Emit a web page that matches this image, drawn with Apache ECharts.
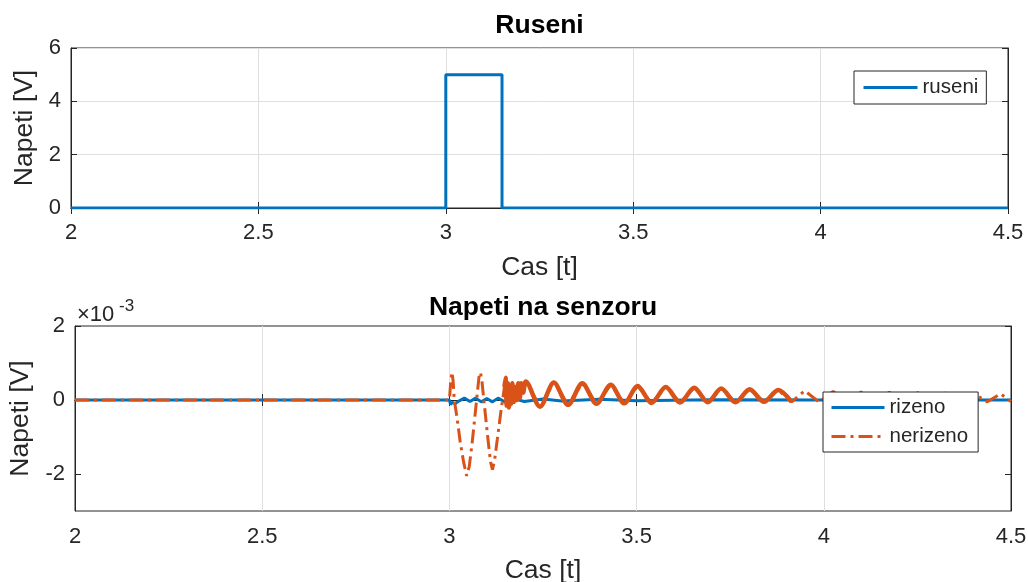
<!DOCTYPE html>
<html>
<head>
<meta charset="utf-8">
<title>Ruseni / Napeti na senzoru</title>
<script src="https://cdn.jsdelivr.net/npm/echarts@6/dist/echarts.min.js"></script>
<style>
  html, body { margin: 0; padding: 0; background: #fff; }
  #chart { width: 1028px; height: 582px; }
</style>
</head>
<body>
<div id="chart"></div>
<script>
// top plot: disturbance pulse
const ruseniT = [2, 3, 3, 3.15, 3.15, 4.5];
const ruseniV = [0, 0, 5, 5, 0, 0];

// bottom plot: sensor voltage, values in 1e-3 V
const rizenoT = [2, 3.000, 3.003, 3.008, 3.015, 3.025, 3.040, 3.055, 3.070, 3.085, 3.100, 3.115,
  3.130, 3.150, 3.170, 3.200, 3.250, 3.300, 3.400, 3.500, 3.700, 4.000, 4.500];
const rizenoV = [0, 0, -0.12, -0.06, -0.10, -0.03, 0.05, -0.04, 0.05, -0.05, 0.04, -0.05,
  0.05, -0.06, 0.04, -0.04, 0.03, -0.03, 0.02, -0.02, 0.01, 0, 0];

const nerizenoT = [2.000, 3.000, 3.004, 3.007, 3.010, 3.013, 3.020, 3.029, 3.038, 3.046, 3.053,
  3.061, 3.070, 3.079, 3.083, 3.087, 3.092, 3.103, 3.110, 3.115, 3.121, 3.128, 3.137, 3.147,
  3.150, 3.153, 3.156, 3.159, 3.162, 3.165, 3.168, 3.172, 3.176, 3.180, 3.184, 3.188, 3.192,
  3.197, 3.204, 3.242, 3.279, 3.317, 3.355, 3.393, 3.431, 3.467, 3.503, 3.540, 3.578, 3.616,
  3.654, 3.690, 3.726, 3.764, 3.802, 3.840, 3.878, 3.914, 3.949, 3.987, 4.025, 4.062, 4.100,
  4.137, 4.175, 4.212, 4.250, 4.287, 4.325, 4.362, 4.400, 4.437, 4.472, 4.500];
const nerizenoV = [0, 0, 0.55, 0.75, 0.50, 0.00, -0.45, -1.14, -1.68, -2.05, -1.80,
  -1.14, -0.26, 0.62, 0.75, 0.50, 0.00, -1.06, -1.68, -1.88, -1.60, -1.06, -0.35, 0.35,
  0.60, -0.15, 0.45, -0.20, 0.30, -0.10, 0.45, -0.05, 0.35, 0.00, 0.45, 0.05, 0.45,
  0.20, 0.50, -0.18, 0.47, -0.13, 0.45, -0.10, 0.41, -0.09, 0.38, -0.08, 0.35, -0.07,
  0.33, -0.06, 0.31, -0.06, 0.29, -0.05, 0.27, -0.05, 0.25, -0.05, 0.23, -0.05, 0.22,
  -0.05, 0.21, -0.05, 0.20, -0.05, 0.19, -0.05, 0.18, -0.05, 0.17, -0.04];

// ticks
const xTicks = [2, 2.5, 3, 3.5, 4, 4.5];
const ruseniTicks = [0, 2, 4, 6];
const senzorTicks = [-2, 0, 2];
const senzorMin = -3;

const BLUE = '#0072BD';
const ORANGE = '#D95319';
const INK = '#262626';
const GRIDC = '#dfdfdf';
const FONT = '"Liberation Sans", Arial, Helvetica, sans-serif';

const zip = (ts, vs) => ts.map((t, i) => [t, vs[i]]);
const nerizenoAll = zip(nerizenoT, nerizenoV);
// noisy part looks solid in the original
const nerizenoDense = nerizenoAll.filter(p => p[0] >= 3.147 && p[0] <= 3.914);

const chart = echarts.init(document.getElementById('chart'), null, { renderer: 'canvas' });

function xAx(grid, main, margin) {
  return {
    type: 'value', gridIndex: grid, position: main ? 'bottom' : 'top',
    min: xTicks[0], max: xTicks[xTicks.length - 1], interval: 0.5,
    name: main ? 'Cas [t]' : '', nameLocation: 'middle', nameGap: 46,
    nameTextStyle: { fontFamily: FONT, fontSize: 26.5, color: INK },
    axisLine: { show: true, lineStyle: { color: INK, width: 1 } },
    axisTick: { show: true, inside: true, length: 6, lineStyle: { color: INK } },
    axisLabel: { show: main, margin: margin, fontFamily: FONT, fontSize: 22, color: INK },
    splitLine: { show: main, lineStyle: { color: GRIDC, width: 1 } }
  };
}

const legendCommon = {
  backgroundColor: '#fff', borderColor: INK, borderWidth: 1, borderRadius: 0,
  textStyle: { fontFamily: FONT, fontSize: 20.5, color: INK },
  lineStyle: { width: 3 },
  // line only, no marker
  itemStyle: { opacity: 0, color: 'rgba(0,0,0,0)', borderWidth: 0 }
};

const option = {
  animation: false,
  backgroundColor: '#fff',
  grid: [
    { left: 71, right: 20, top: 48, bottom: 374, show: true, borderColor: INK, borderWidth: 1, outerBoundsMode: 'none' },
    { left: 75, right: 17, top: 326, bottom: 71, show: true, borderColor: INK, borderWidth: 1, outerBoundsMode: 'none' }
  ],
  xAxis: [xAx(0, true, 14), xAx(0, false, 14), xAx(1, true, 15), xAx(1, false, 15)],
  yAxis: [
    {
      type: 'value', gridIndex: 0, min: ruseniTicks[0], max: ruseniTicks[ruseniTicks.length - 1], interval: 2,
      name: 'Napeti [V]', nameLocation: 'middle', nameGap: 29,
      nameTextStyle: { fontFamily: FONT, fontSize: 26.5, color: INK },
      axisLine: { show: true, lineStyle: { color: INK } },
      axisTick: { show: true, inside: true, length: 6, lineStyle: { color: INK } },
      axisLabel: { margin: 10, fontFamily: FONT, fontSize: 22, color: INK },
      splitLine: { show: true, lineStyle: { color: GRIDC } }
    },
    {
      type: 'value', gridIndex: 0, position: 'right', min: 0, max: 6, interval: 2,
      axisLine: { show: true, lineStyle: { color: INK } },
      axisTick: { show: true, inside: true, length: 6, lineStyle: { color: INK } },
      axisLabel: { show: false }, splitLine: { show: false }
    },
    {
      type: 'value', gridIndex: 1, min: senzorMin, max: senzorTicks[senzorTicks.length - 1], interval: 1,
      name: 'Napeti [V]', nameLocation: 'middle', nameGap: 35,
      nameTextStyle: { fontFamily: FONT, fontSize: 26.5, color: INK },
      axisLine: { show: true, lineStyle: { color: INK } },
      axisTick: { show: true, inside: true, length: 6, lineStyle: { color: INK }, customValues: senzorTicks },
      axisLabel: {
        margin: 10, fontFamily: FONT, fontSize: 22, color: INK, customValues: senzorTicks,
        formatter: v => (senzorTicks.indexOf(v) >= 0 ? String(v) : '')
      },
      // ticks at -3..2, grid lines only at even values
      splitLine: { show: true, lineStyle: { color: ['rgba(0,0,0,0)', GRIDC] } }
    },
    {
      type: 'value', gridIndex: 1, position: 'right', min: senzorMin, max: 2, interval: 1,
      axisLine: { show: true, lineStyle: { color: INK } },
      axisTick: { show: true, inside: true, length: 6, lineStyle: { color: INK }, customValues: senzorTicks },
      axisLabel: { show: false }, splitLine: { show: false }
    }
  ],
  legend: [
    Object.assign({
      data: ['ruseni'], left: 854, top: 71, orient: 'horizontal',
      itemWidth: 54, itemHeight: 20, padding: [6, 8, 6, 8]
    }, legendCommon),
    Object.assign({
      data: ['rizeno', 'nerizeno'], left: 823, top: 392, orient: 'vertical',
      itemWidth: 53, itemHeight: 20, itemGap: 8, padding: [5, 10, 5, 7]
    }, legendCommon)
  ],
  graphic: [
    { type: 'text', x: 539.5, y: 26, style: { text: 'Ruseni', font: 'bold 26.5px ' + FONT, fill: '#000', align: 'center', verticalAlign: 'middle' } },
    { type: 'text', x: 543, y: 308, style: { text: 'Napeti na senzoru', font: 'bold 26.5px ' + FONT, fill: '#000', align: 'center', verticalAlign: 'middle' } },
    { type: 'text', x: 77, y: 315, style: { text: '×10', font: '22px ' + FONT, fill: INK, align: 'left', verticalAlign: 'middle' } },
    { type: 'text', x: 119, y: 306, style: { text: '-3', font: '17px ' + FONT, fill: INK, align: 'left', verticalAlign: 'middle' } }
  ],
  series: [
    {
      name: 'ruseni', type: 'line', xAxisIndex: 0, yAxisIndex: 0,
      data: zip(ruseniT, ruseniV), showSymbol: false, symbol: 'none',
      lineStyle: { color: BLUE, width: 3 }, itemStyle: { color: BLUE }
    },
    {
      name: 'rizeno', type: 'line', xAxisIndex: 2, yAxisIndex: 2,
      data: zip(rizenoT, rizenoV), showSymbol: false, symbol: 'none',
      lineStyle: { color: BLUE, width: 3 }, itemStyle: { color: BLUE }
    },
    {
      name: 'nerizeno', type: 'line', xAxisIndex: 2, yAxisIndex: 2,
      data: nerizenoAll, showSymbol: false, symbol: 'none',
      lineStyle: { color: ORANGE, width: 3, type: [14, 5, 3, 5] }, itemStyle: { color: ORANGE }
    },
    {
      name: 'nerizeno', type: 'line', xAxisIndex: 2, yAxisIndex: 2,
      data: nerizenoDense, showSymbol: false, symbol: 'none', smooth: 0.3,
      lineStyle: { color: ORANGE, width: 4.5 }, itemStyle: { color: ORANGE }
    }
  ]
};

chart.setOption(option);
</script>
</body>
</html>
